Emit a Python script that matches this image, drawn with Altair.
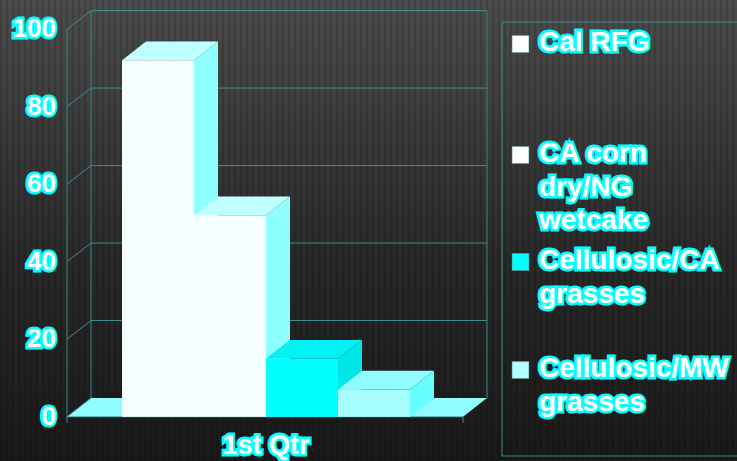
import altair as alt
import pandas as pd
import numpy as np

# ---- data ----
category = "1st Qtr"
series = ["Cal RFG", "CA corn dry/NG wetcake", "Cellulosic/CA grasses", "Cellulosic/MW grasses"]
legend_lines = [["Cal RFG"], ["CA corn", "dry/NG", "wetcake"], ["Cellulosic/CA", "grasses"], ["Cellulosic/MW", "grasses"]]
values = [92, 52, 15, 7]
y_ticks = [0, 20, 40, 60, 80, 100]
front_colors = ["#f5ffff", "#f5ffff", "#00ffff", "#a8ffff"]
top_colors = ["#c0ffff", "#bfffff", "#00f2f2", "#8ffcff"]
side_colors = ["#8effff", "#8effff", "#00e6e6", "#66ffff"]
swatch_colors = ["#ffffff", "#ffffff", "#00ffff", "#b3ffff"]

FONT = "Liberation Sans"
GRID = "#3f8c8c"
HILITE = "#00ffff"

# depth offsets (in data units) for the 3-D look
DX = 1 / 3
DY = 4.83
X_LEFT, X_RIGHT = -0.764, 4.736

X0, XPU = 122.0, 72.0        # pixel of x=0, pixels per unit
Y0, YPU = 416.7, 3.874       # pixel of y=0, pixels per unit
XS = alt.Scale(domain=[0, 4], range=[X0, X0 + 4 * XPU], nice=False, zero=False)
YS = alt.Scale(domain=[0, 100], range=[Y0, Y0 - 100 * YPU], nice=False, zero=False)

def px2u(px):
    return (px - X0) / XPU

def py2v(py):
    return (Y0 - py) / YPU

def X(f):
    return alt.X(f, type="quantitative", scale=XS, axis=None)

def Y(f):
    return alt.Y(f, type="quantitative", scale=YS, axis=None)

one = pd.DataFrame({"a": [0]})

# ---- background ----
bg = alt.Chart(one).mark_rect(
    color={"gradient": "linear", "x1": 0, "y1": 0, "x2": 0, "y2": 1,
           "stops": [{"offset": 0, "color": "#4c4c4c"}, {"offset": 0.55, "color": "#2a2a2a"},
                     {"offset": 1, "color": "#191919"}]}
).encode(x=alt.value(0), x2=alt.value(737), y=alt.value(0), y2=alt.value(461))

stripes_df = pd.DataFrame({"u": [px2u(p) for p in range(1, 740, 6)]})
stripes = alt.Chart(stripes_df).mark_rule(color="#000000", opacity=0.13, strokeWidth=2.5).encode(
    x=X("u"), y=alt.value(0), y2=alt.value(461))

# ---- floor ----
floor_df = pd.DataFrame({"yy": [0, DY], "xa": [X_LEFT, X_LEFT + DX], "xb": [X_RIGHT, X_RIGHT + DX]})
floor = alt.Chart(floor_df).mark_area(orient="horizontal", color="#8ffcff").encode(
    y=Y("yy"), x=X("xa"), x2="xb")

# ---- walls / gridlines ----
grid_df = pd.DataFrame({"t": y_ticks, "tb": [t + DY for t in y_ticks],
                        "xl": X_LEFT, "xlb": X_LEFT + DX, "xrb": X_RIGHT + DX})
back_grid = alt.Chart(grid_df[grid_df.t > 0]).mark_rule(color=GRID, strokeWidth=1).encode(
    y=Y("tb"), x=X("xlb"), x2="xrb")
side_grid = alt.Chart(grid_df).mark_rule(color=GRID, strokeWidth=1).encode(
    x=X("xl"), y=Y("t"), x2="xlb", y2="tb")
walls = alt.Chart(pd.DataFrame({"xa": [X_LEFT + DX, X_RIGHT + DX, X_LEFT, X_RIGHT],
                                "ya": [DY, DY, -1.6, -1.6],
                                "yb": [100 + DY, 100 + DY, 100, 0]})).mark_rule(color=GRID).encode(
    x=X("xa"), y=Y("ya"), y2="yb")
edges = alt.Chart(pd.DataFrame({"xa": [X_LEFT + DX, X_LEFT], "xb": [X_RIGHT + DX, X_RIGHT],
                                "yy": [100 + DY, 0], "c": [GRID, "#5fb8b8"]})).mark_rule().encode(
    x=X("xa"), x2="xb", y=Y("yy"), color=alt.Color("c:N", scale=None))

# ---- bars ----
front_rows, side_rows, top_rows = [], [], []
for i, (s, v) in enumerate(zip(series, values)):
    front_rows.append({"s": s, "x": i, "x2": i + 1, "y0": 0, "v": v, "c": front_colors[i]})
    side_rows += [{"s": s, "x": i + 1, "lo": 0, "hi": v, "c": side_colors[i]},
                  {"s": s, "x": i + 1 + DX, "lo": DY, "hi": v + DY, "c": side_colors[i]}]
    top_rows += [{"s": s, "yy": v, "xa": i, "xb": i + 1, "c": top_colors[i]},
                 {"s": s, "yy": v + DY, "xa": i + DX, "xb": i + 1 + DX, "c": top_colors[i]}]

sides = alt.Chart(pd.DataFrame(side_rows)).mark_area(orient="vertical").encode(
    x=X("x"), y=Y("lo"), y2="hi", detail="s:N", fill=alt.Fill("c:N", scale=None))
tops = alt.Chart(pd.DataFrame(top_rows)).mark_area(orient="horizontal").encode(
    y=Y("yy"), x=X("xa"), x2="xb", detail="s:N", fill=alt.Fill("c:N", scale=None))
fronts = alt.Chart(pd.DataFrame(front_rows)).mark_rect().encode(
    x=X("x"), x2="x2", y=Y("y0"), y2="v", fill=alt.Fill("c:N", scale=None))

# ---- labels (with cyan highlight) ----
def hl_text(base, size=26, **kw):
    under = base.mark_text(font=FONT, fontWeight="bold", fontSize=size, fill=HILITE,
                           stroke=HILITE, strokeWidth=5, strokeJoin="miter", **kw)
    over = base.mark_text(font=FONT, fontWeight="bold", fontSize=size, fill="#ffffff", **kw)
    return [under, over]

tick_base = alt.Chart(pd.DataFrame({"t": y_ticks})).encode(
    y=Y("t"), x=alt.value(56), text=alt.Text("t:Q"))
tick_labels = hl_text(tick_base, align="right", baseline="middle")

cat_base = alt.Chart(pd.DataFrame({"c": [category], "u": [2.0]})).encode(
    x=X("u"), y=alt.value(446), text="c:N")
cat_labels = hl_text(cat_base, size=27, align="center", baseline="middle")

# ---- legend ----
legend_py = [44, 155, 262, 370]
leg_df = pd.DataFrame({"lines": legend_lines, "ly": [py2v(p) for p in legend_py],
                       "c": swatch_colors})
legend_box = alt.Chart(one).mark_rect(fill=None, stroke=GRID, strokeWidth=1).encode(
    x=alt.value(502), x2=alt.value(760), y=alt.value(22), y2=alt.value(456))
swatch = alt.Chart(leg_df).mark_square(size=280, opacity=1, stroke="#7fbfbf", strokeWidth=0.5).encode(
    x=alt.value(520.5), y=Y("ly"), fill=alt.Fill("c:N", scale=None))
leg_base = alt.Chart(leg_df).encode(x=alt.value(539), y=Y("ly"), text="lines")
leg_labels = hl_text(leg_base, size=28, align="left", baseline="top", lineHeight=33.5, dy=-15)

chart = alt.layer(
    bg, stripes, floor, back_grid, side_grid, walls, edges,
    sides, tops, fronts,
    *tick_labels, *cat_labels, legend_box, swatch, *leg_labels
).properties(width=737, height=461, padding=0, autosize="none", background="#222222"
).configure_view(stroke=None)

chart.save("out.html", embed_options={"renderer": "svg", "actions": False})
